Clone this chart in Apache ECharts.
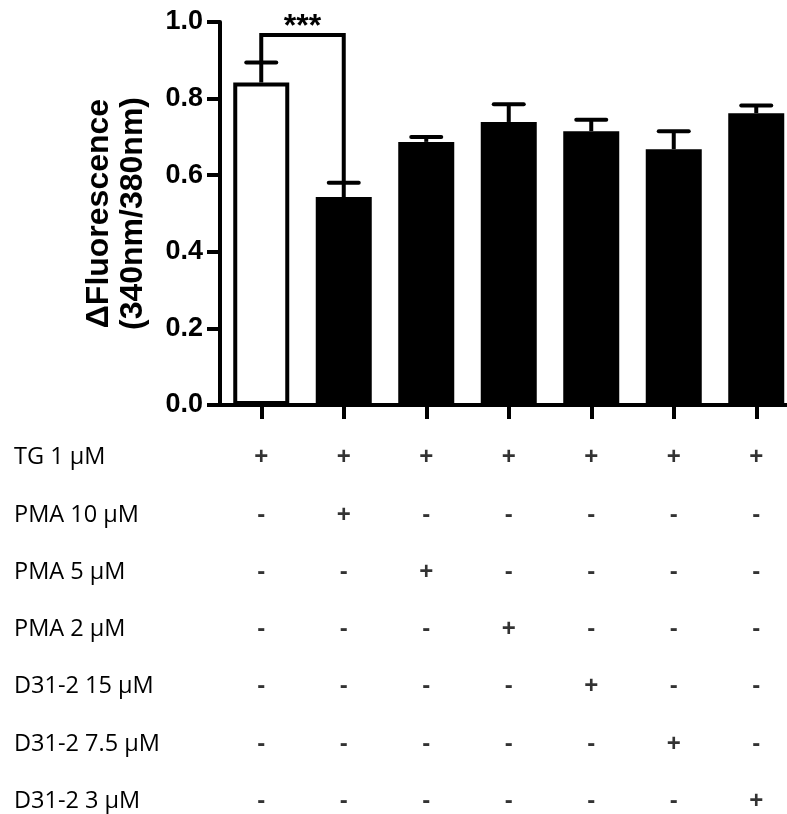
<!DOCTYPE html>
<html>
<head>
<meta charset="utf-8">
<script src="https://cdn.jsdelivr.net/npm/echarts@6/dist/echarts.min.js"></script>
<style>
  html, body { margin: 0; padding: 0; background: #fff; }
</style>
</head>
<body>
<div id="main" style="width: 787px;height: 814px"></div>
<script>
  // bar groups (one per column of the treatment table)
  const groups = ['TG', 'TG+PMA10', 'TG+PMA5', 'TG+PMA2', 'TG+D15', 'TG+D7.5', 'TG+D3']
  const means = [0.842, 0.543, 0.687, 0.739, 0.715, 0.668, 0.762]
  const sems = [0.052, 0.037, 0.013, 0.046, 0.030, 0.047, 0.020]
  const yTicks = [0, 0.2, 0.4, 0.6, 0.8, 1.0]

  // significance bracket between bar 0 and bar 1
  const sigPair = [0, 1]
  const sigLevel = 0.966
  const sigText = '***'

  // treatment table
  const rowNames = ['TG 1 μM', 'PMA 10 μM', 'PMA 5 μM', 'PMA 2 μM', 'D31-2 15 μM', 'D31-2 7.5 μM', 'D31-2 3 μM']
  const rowTG = ['+', '+', '+', '+', '+', '+', '+']
  const rowPMA10 = ['-', '+', '-', '-', '-', '-', '-']
  const rowPMA5 = ['-', '-', '+', '-', '-', '-', '-']
  const rowPMA2 = ['-', '-', '-', '+', '-', '-', '-']
  const rowD15 = ['-', '-', '-', '-', '+', '-', '-']
  const rowD75 = ['-', '-', '-', '-', '-', '+', '-']
  const rowD3 = ['-', '-', '-', '-', '-', '-', '+']
  const rows = [rowTG, rowPMA10, rowPMA5, rowPMA2, rowD15, rowD75, rowD3]

  const tableData = []
  rows.forEach((r, ri) => {
    r.forEach((s, ci) => { tableData.push([ci, ri, s]) })
  })

  const barData = means.map((v, i) => {
    if (i === 0) {
      return { value: v, itemStyle: { color: '#fff', borderColor: '#000', borderWidth: 4 } }
    }
    return v
  })

  const boldFont = 'Liberation Sans'

  const chart = echarts.init(document.getElementById('main'))
  chart.setOption({
    animation: false,
    backgroundColor: '#fff',
    grid: [
      { left: 220, top: 22, width: 577.5, height: 383, outerBoundsMode: 'none', containLabel: false },
      { left: 220, top: 429, width: 577.5, height: 401, outerBoundsMode: 'none', containLabel: false }
    ],
    xAxis: [
      {
        type: 'category',
        gridIndex: 0,
        data: groups,
        axisLine: { show: true, lineStyle: { color: '#000', width: 4 } },
        axisTick: { show: true, alignWithLabel: true, length: 14, lineStyle: { color: '#000', width: 4 } },
        axisLabel: { show: false }
      },
      {
        type: 'category',
        gridIndex: 1,
        data: groups,
        show: false
      }
    ],
    yAxis: [
      {
        type: 'value',
        gridIndex: 0,
        min: 0,
        max: 1,
        interval: 0.2,
        name: 'ΔFluorescence\n(340nm/380nm)',
        nameLocation: 'middle',
        nameRotate: 90,
        nameGap: 70,
        nameTextStyle: { fontFamily: boldFont, fontWeight: 'bold', fontSize: 32, color: '#000', lineHeight: 34 },
        splitLine: { show: false },
        axisLine: { show: true, lineStyle: { color: '#000', width: 4 } },
        axisTick: { show: true, inside: false, interval: 0, length: 13, lineStyle: { color: '#000', width: 4 } },
        axisLabel: {
          margin: 17,
          fontFamily: boldFont,
          fontWeight: 'bold',
          fontSize: 27,
          color: '#000',
          formatter: v => yTicks.includes(Math.round(v * 10) / 10) ? v.toFixed(1) : ''
        }
      },
      {
        type: 'category',
        gridIndex: 1,
        inverse: true,
        data: rowNames,
        axisLine: { show: false },
        axisTick: { show: false },
        axisLabel: {
          align: 'left',
          margin: 206,
          padding: [0, 0, 8, 0],
          fontFamily: 'Open Sans',
          fontSize: 23.5,
          color: '#000'
        }
      }
    ],
    series: [
      {
        type: 'bar',
        xAxisIndex: 0,
        yAxisIndex: 0,
        data: barData,
        barWidth: 56,
        itemStyle: { color: '#000', borderColor: '#000', borderWidth: 4 },
        z: 2
      },
      {
        type: 'custom',
        xAxisIndex: 0,
        yAxisIndex: 0,
        z: 3,
        data: means.map((m, i) => [i, m, sems[i]]),
        renderItem(params, api) {
          const x = api.value(0)
          const m = api.value(1)
          const e = api.value(2)
          const base = api.coord([x, m])
          const top = api.coord([x, m + e])
          return {
            type: 'group',
            children: [
              { type: 'line', shape: { x1: base[0], y1: base[1], x2: top[0], y2: top[1] }, style: { stroke: '#000', lineWidth: 4 } },
              { type: 'line', shape: { x1: top[0] - 15, y1: top[1], x2: top[0] + 15, y2: top[1] }, style: { stroke: '#000', lineWidth: 4, lineCap: 'round' } }
            ]
          }
        }
      },
      {
        type: 'custom',
        xAxisIndex: 0,
        yAxisIndex: 0,
        z: 3,
        clip: false,
        data: [[sigPair[0], sigPair[1], means[sigPair[0]] + sems[sigPair[0]], means[sigPair[1]] + sems[sigPair[1]], sigLevel]],
        renderItem(params, api) {
          const a = api.value(0)
          const b = api.value(1)
          const p1 = api.coord([a, api.value(2)])
          const p2 = api.coord([a, api.value(4)])
          const p3 = api.coord([b, api.value(4)])
          const p4 = api.coord([b, api.value(3)])
          return {
            type: 'group',
            children: [
              { type: 'polyline', shape: { points: [p1, p2, p3, p4] }, style: { stroke: '#000', lineWidth: 4, fill: null, lineJoin: 'miter' } },
              {
                type: 'text',
                x: (p2[0] + p3[0]) / 2,
                y: p2[1] - 8,
                style: { text: sigText, fontFamily: boldFont, fontWeight: 'bold', fontSize: 32, fill: '#000', align: 'center', verticalAlign: 'middle' }
              }
            ]
          }
        }
      },
      {
        type: 'scatter',
        xAxisIndex: 1,
        yAxisIndex: 1,
        data: tableData,
        symbolSize: 1,
        itemStyle: { color: 'rgba(0,0,0,0)' },
        label: {
          show: true,
          position: 'inside',
          formatter: p => p.value[2],
          fontFamily: boldFont,
          fontWeight: 'bold',
          fontSize: 24,
          color: '#000'
        }
      }
    ]
  })
</script>
</body>
</html>
